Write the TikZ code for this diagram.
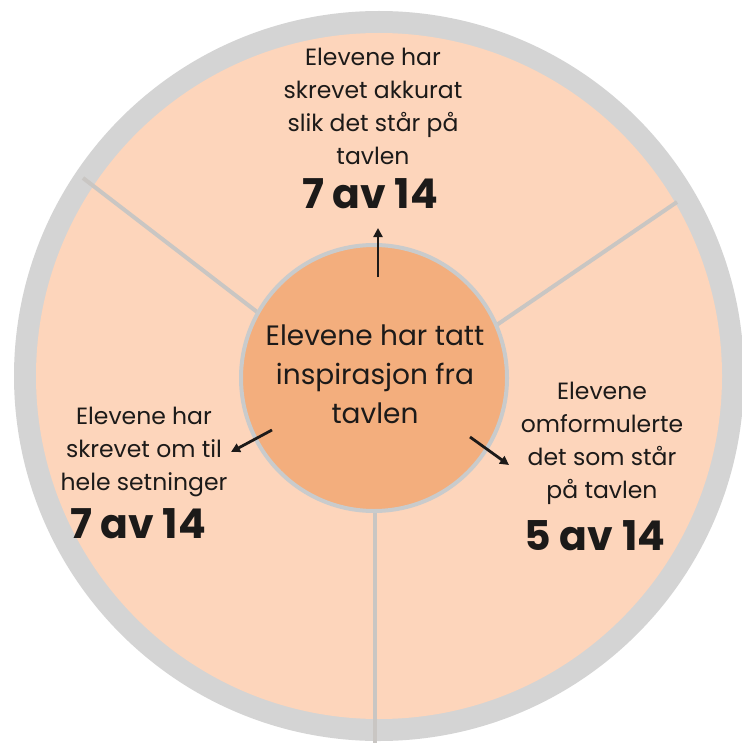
\documentclass[tikz,border=0pt]{standalone}
\usepackage{fontspec}
\setmainfont{Poppins}
\usetikzlibrary{arrows.meta}
\definecolor{ringgray}{HTML}{D4D4D4}
\definecolor{peach}{HTML}{FDD5BB}
\definecolor{core}{HTML}{F3AE7D}
\definecolor{coreedge}{HTML}{C9CBCC}
\definecolor{divider}{HTML}{C9C6C3}
\definecolor{ink}{HTML}{1C1A19}
\begin{document}
\begin{tikzpicture}[x=1pt,y=-1pt,
  body/.style={align=center, font=\fontsize{23.5}{33}\selectfont, text=ink, inner sep=0pt, anchor=base},
  corefont/.style={align=center, font=\fontsize{28}{39}\selectfont, text=ink, inner sep=0pt, anchor=base},
  big/.style={font=\fontsize{41}{44}\selectfont\bfseries, text=ink, inner sep=0pt, anchor=base},
  pointer/.style={-{Triangle[length=9pt,width=9pt]}, line width=2.8pt, draw=ink},
  divline/.style={draw=divider, line width=4pt}]
\useasboundingbox (0,0) rectangle (741,743);
\fill[white] (0,0) rectangle (741,743);
\fill[ringgray] (379,376) circle[radius=365pt];
\fill[peach] (379,376) circle[radius=343pt];
\draw[divline] (83,178) -- (300,345);
\draw[divline] (677,202) -- (460,350);
\draw[divline] (375,450) -- (375,743);
\node[circle, fill=core, draw=coreedge, line width=4pt, minimum size=266pt, inner sep=0pt] (core) at (374,378) {};
\node[corefont] (coretext) at (375,423) {Elevene har tatt\\inspirasjon fra\\tavlen};
\node[body] (toptext) at (373,165) {Elevene har\\skrevet akkurat\\slik det står på\\tavlen};
\node[big] (topnum) at (370,208) {7 av 14};
\node[body] (lefttext) at (144,490) {Elevene har\\skrevet om til\\hele setninger};
\node[big] (leftnum) at (138,538) {7 av 14};
\node[body] (righttext) at (602,498) {Elevene\\omformulerte\\det som står\\på tavlen};
\node[big] (rightnum) at (595,550) {5 av 14};
\coordinate (upS) at (378,277);
\coordinate (upE) at (378,228);
\coordinate (leftS) at (272,430);
\coordinate (leftE) at (231,452);
\coordinate (rightS) at (470,437);
\coordinate (rightE) at (509,465);
\draw[pointer] (upS) -- (upE);
\draw[pointer] (leftS) -- (leftE);
\draw[pointer] (rightS) -- (rightE);
\end{tikzpicture}
\end{document}
